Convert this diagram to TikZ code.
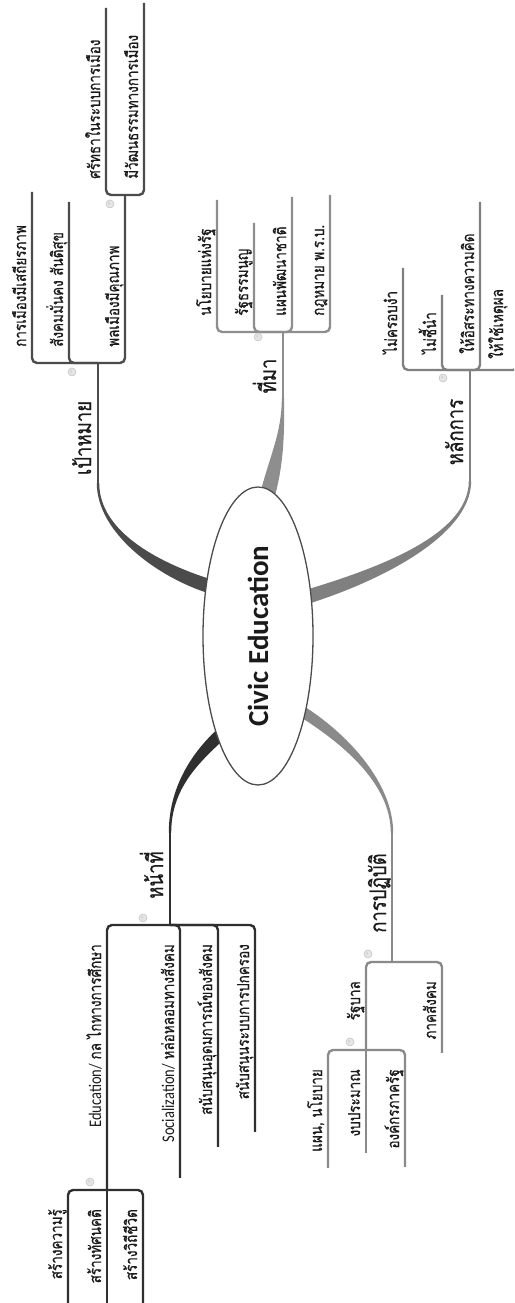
\documentclass[tikz,border=0pt]{standalone}
\usepackage{fontspec}
\usepackage{graphicx}
\setmainfont{Carlito}
\newfontfamily\thaifont[Script=Thai,FakeBold=0.7]{Loma}
\newfontfamily\latinf{Carlito}
\usetikzlibrary{calc,shapes.geometric}
\definecolor{cgoal}{HTML}{4B4B4B}
\definecolor{csrc}{HTML}{8E8E8E}
\definecolor{cprin}{HTML}{808080}
\definecolor{cduty}{HTML}{2F2F2F}
\definecolor{cprac}{HTML}{8A8A8A}
\definecolor{ctext}{HTML}{1A1A1A}
\newcommand{\lat}[1]{{\latinf\fontsize{14.5}{16}\selectfont #1}}
\newcommand{\vst}[1]{\scalebox{1}[1.22]{#1}}
\tikzset{
 leaf/.style={inner sep=0pt, text=ctext, font=\thaifont\fontsize{13.5}{15}\selectfont},
 mainlbl/.style={inner sep=0pt, text=ctext, font=\thaifont\fontsize{18.5}{20}\selectfont},
 wire/.style={line width=2.4pt, rounded corners=5pt},
 marker/.style={circle, draw=gray!45, fill=gray!20, line width=0.6pt, minimum size=8pt, inner sep=0pt, font=\latinf\fontsize{7}{7}\selectfont, text=gray!70},
 rootnode/.style={ellipse, draw=black!70, line width=1.3pt, fill=white, minimum width=298pt, minimum height=110pt, inner sep=0pt, font=\latinf\bfseries\fontsize{29}{30}\selectfont, text=ctext}
}
\newcommand{\taper}[7]{%
 \fill[#1] ($(#2)!#6!90:(#3)$) .. controls ($(#3)!#6!-90:(#2)$) and ($(#4)!#7!90:(#5)$) .. ($(#5)!#7!-90:(#4)$)
   -- ($(#5)!#7!90:(#4)$) .. controls ($(#4)!#7!-90:(#5)$) and ($(#3)!#6!90:(#2)$) .. ($(#2)!#6!-90:(#3)$) -- cycle;}
\newcommand{\kidR}[7]{%
 \coordinate (#1-e) at (#6,#5);
 \draw[wire,draw=#2] (#3) |- (#1-e);
 \node[leaf,anchor=base west] (#1) at (#4+16,#5-6) {\vst{#7}};}
\newcommand{\kidL}[7]{%
 \coordinate (#1-e) at (#6,#5);
 \draw[wire,draw=#2] (#3) |- (#1-e);
 \node[leaf,anchor=base east] (#1) at (#4-19,#5-6) {\vst{#7}};}
\newcommand{\kidLs}[7]{%
 \coordinate (#1-e) at (#6,#5);
 \draw[wire,draw=#2] (#3) -- (#1-e);
 \node[leaf,anchor=base east] (#1) at (#4-19,#5-6) {\vst{#7}};}
\begin{document}
\begin{tikzpicture}[x=1pt,y=-1pt,rotate=90,transform shape]
\path[use as bounding box] (0,0) rectangle (1303,514);
\clip (0,0) rectangle (1303,514);
% branch geometry
\coordinate (gA) at (716,212); \coordinate (gC1) at (732,160); \coordinate (gC2) at (770,98); \coordinate (gB) at (820,98); \coordinate (jgoal) at (940,98);
\coordinate (sA) at (810,268); \coordinate (sC1) at (845,277); \coordinate (sC2) at (870,283); \coordinate (sB) at (905,283); \coordinate (jsrc) at (971,283);
\coordinate (pA) at (704,300); \coordinate (pC1) at (725,370); \coordinate (pC2) at (765,470); \coordinate (pB) at (822,470); \coordinate (jprin) at (933,470);
\coordinate (dA) at (570,222); \coordinate (dC1) at (545,195); \coordinate (dC2) at (515,170); \coordinate (dB) at (470,170); \coordinate (jduty) at (378,170);
\coordinate (rA) at (594,298); \coordinate (rC1) at (565,345); \coordinate (rC2) at (520,392); \coordinate (rB) at (470,392); \coordinate (jprac) at (341,392);
\taper{cgoal}{gA}{gC1}{gC2}{gB}{7pt}{1.2pt}
\taper{csrc}{sA}{sC1}{sC2}{sB}{7.5pt}{1.2pt}
\taper{cprin}{pA}{pC1}{pC2}{pB}{7pt}{1.2pt}
\taper{cduty}{dA}{dC1}{dC2}{dB}{6pt}{1.2pt}
\taper{cprac}{rA}{rC1}{rC2}{rB}{5.5pt}{1.2pt}
\draw[wire,draw=cgoal] (gB) -- (jgoal);
\draw[wire,draw=csrc] (sB) -- (jsrc);
\draw[wire,draw=cprin] (pB) -- (jprin);
\draw[wire,draw=cduty] (dB) -- (jduty);
\draw[wire,draw=cprac] (rB) -- (jprac);
\node[rootnode] (root) at (667,258) {Civic Education};
% main labels
\node[mainlbl,anchor=base] (lgoal) at (865,91) {\vst{เป้าหมาย}};
\node[mainlbl,anchor=base] (lsrc) at (927,276) {\vst{ที่มา}};
\node[mainlbl,anchor=base] (lprin) at (871,463) {\vst{หลักการ}};
\node[mainlbl,anchor=base] (lduty) at (428,163) {\vst{หน้าที่}};
\node[mainlbl,anchor=base] (lprac) at (410,386) {\vst{การปฏิบัติ}};
% goal
\kidR{g1}{cgoal}{jgoal}{940}{32}{1111}{การเมืองมีเสถียรภาพ}
\kidR{g2}{cgoal}{jgoal}{940}{69}{1101}{สังคมมั่นคง สันติสุข}
\kidR{g3}{cgoal}{jgoal}{940}{125}{1108}{พลเมืองมีคุณภาพ}
\kidR{g31}{cgoal}{g3-e}{1108}{106}{1295}{ศรัทธาในระบบการเมือง}
\kidR{g32}{cgoal}{g3-e}{1108}{144}{1300}{มีวัฒนธรรมทางการเมือง}
% source
\kidR{s1}{csrc}{jsrc}{971}{217}{1103}{นโยบายแห่งรัฐ}
\kidR{s2}{csrc}{jsrc}{971}{254}{1080}{รัฐธรรมนูญ}
\kidR{s3}{csrc}{jsrc}{971}{292}{1106}{แผนพัฒนาชาติ}
\kidR{s4}{csrc}{jsrc}{971}{330}{1108}{กฎหมาย พ.ร.บ.}
% principle
\kidR{p1}{cprin}{jprin}{933}{403}{1035}{ไม่ครอบงำ}
\kidR{p2}{cprin}{jprin}{933}{442}{1008}{ไม่ชี้นำ}
\kidR{p3}{cprin}{jprin}{933}{480}{1101}{ให้อิสระทางความคิด}
\coordinate (p4-e) at (1050,518);
\draw[wire,draw=cprin] (jprin) |- (p4-e);
\node[leaf,anchor=base west] (p4) at (944,503) {\vst{ให้ใช้เหตุผล}};
% duty
\kidL{d1}{cduty}{jduty}{378}{107}{113}{\lat{Education/} กล ไกทางการศึกษา}
\kidL{d2}{cduty}{jduty}{378}{180}{125}{\lat{Socialization/} หล่อหลอมทางสังคม}
\kidL{d3}{cduty}{jduty}{378}{218}{156}{สนับสนุนอุดมการณ์ของสังคม}
\kidL{d4}{cduty}{jduty}{378}{255}{171}{สนับสนุนระบบการปกครอง}
\kidL{d11}{cduty}{d1-e}{113}{68}{-5}{สร้างความรู้}
\kidLs{d12}{cduty}{d1-e}{113}{107}{-5}{สร้างทัศนคติ}
\kidL{d13}{cduty}{d1-e}{113}{143}{-5}{สร้างวิถีชีวิต}
% practice
\kidL{r1}{cprac}{jprac}{341}{366}{253}{รัฐบาล}
\kidL{r2}{cprac}{jprac}{341}{442}{250}{ภาคสังคม}
\kidL{r11}{cprac}{r1-e}{253}{328}{135}{แผน, นโยบาย}
\kidLs{r12}{cprac}{r1-e}{253}{366}{150}{งบประมาณ}
\kidL{r13}{cprac}{r1-e}{253}{405}{136}{องค์กรภาครัฐ}
% collapse markers
\node[marker] (mgoal) at (931,72) {–};
\node[marker] (mpol) at (1099,110) {–};
\node[marker] (msrc) at (966,258) {–};
\node[marker] (mprin) at (925,443) {–};
\node[marker] (mduty) at (385,143) {–};
\node[marker] (medu) at (121,90) {–};
\node[marker] (mprac) at (349,368) {–};
\node[marker] (mgov) at (261,350) {–};
\end{tikzpicture}
\end{document}
